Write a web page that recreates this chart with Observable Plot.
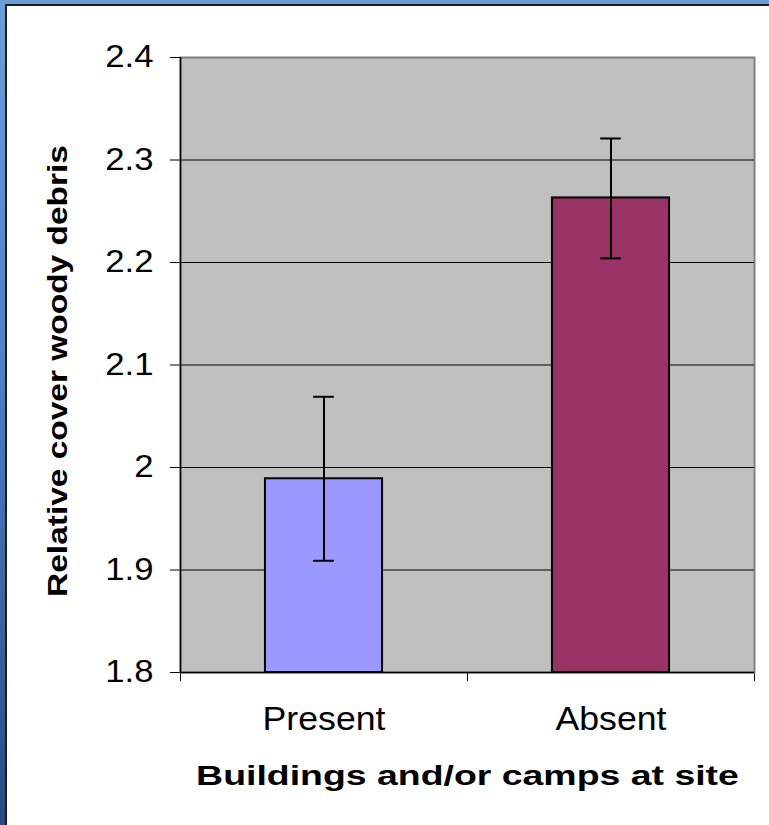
<!DOCTYPE html>
<html><head><meta charset="utf-8">
<script src="https://cdn.jsdelivr.net/npm/d3@7"></script>
<script src="https://cdn.jsdelivr.net/npm/@observablehq/plot@0.6"></script>
<style>
html,body{margin:0;padding:0;width:769px;height:825px;overflow:hidden;background:#fff}
#slide{position:absolute;left:0;top:0;width:769px;height:825px;background:linear-gradient(180deg,#6a9ed8 0%,#4f80c0 45%,#2a4a80 100%);}
#page{position:absolute;left:5px;top:4px;right:0;bottom:0;background:#fff;border-top:2px solid #1e1e1e;border-left:2px solid #1e1e1e;}
#chart{position:absolute;left:0;top:0}
</style></head>
<body>
<div id="slide"></div><div id="page"></div><div id="chart"></div>
<script>
// ---- data ----
const categories = ["Present", "Absent"];
const values = [1.989, 2.263];
const errLow = [1.909, 2.204];
const errHigh = [2.069, 2.321];
const barColors = ["#9999FF", "#993366"];
const yTicks = [1.8, 1.9, 2.0, 2.1, 2.2, 2.3, 2.4];
const gridTicks = [1.9, 2.0, 2.1, 2.2, 2.3];
const yTitle = "Relative cover woody debris";
const xTitle = "Buildings and/or camps at site";

const yMin = yTicks[0], yMax = yTicks[yTicks.length - 1];
const barHalf = 0.204;   // half of bar width as a fraction of category slot
const capHalf = 0.036;   // half of error cap width

const table = categories.map((c, i) => ({
  cat: c, i, center: i + 0.5, value: values[i], lo: errLow[i], hi: errHigh[i]
}));
const bounds = d3.range(0, categories.length + 1);

const chart = Plot.plot({
  width: 769, height: 825,
  marginLeft: 180, marginRight: 15, marginTop: 57, marginBottom: 153,
  style: {fontFamily: "'Liberation Sans', Arial, sans-serif", fontSize: "31px", color: "black", background: "transparent", overflow: "visible"},
  x: {domain: [0, categories.length], ticks: bounds, tickFormat: () => "", tickSize: 9, label: null},
  y: {domain: [yMin, yMax], ticks: yTicks, tickFormat: d3.format("~g"), tickSize: 10, tickPadding: 17, label: null},
  color: {domain: categories, range: barColors},
  marks: [
    Plot.frame({fill: "#c0c0c0", stroke: "#808080", strokeWidth: 2}),
    Plot.ruleY(gridTicks, {stroke: "black", strokeWidth: 1}),
    Plot.ruleX([bounds[0]], {y1: yMin, y2: yMax, stroke: "black", strokeWidth: 1.5}),
    Plot.ruleY([yMin], {stroke: "black", strokeWidth: 1.5}),
    Plot.rectY(table, {x1: d => d.center - barHalf, x2: d => d.center + barHalf, y1: yMin, y2: "value", fill: "cat", stroke: "black", strokeWidth: 2}),
    Plot.ruleX(table, {x: "center", y1: "lo", y2: "hi", stroke: "black", strokeWidth: 2}),
    Plot.ruleY(table, {x1: d => d.center - capHalf, x2: d => d.center + capHalf, y: "lo", stroke: "black", strokeWidth: 2}),
    Plot.ruleY(table, {x1: d => d.center - capHalf, x2: d => d.center + capHalf, y: "hi", stroke: "black", strokeWidth: 2}),
    Plot.text(table, {x: "center", y: yMin, text: "cat", dy: 47, fontSize: 33, fill: "black", className: "catlab"}),
    Plot.text([yTitle], {frameAnchor: "left", textAnchor: "middle", rotate: -90, dx: -122, dy: 6, fontSize: 28, fontWeight: "bold", fill: "black", className: "ytitle"}),
    Plot.text([xTitle], {frameAnchor: "bottom", textAnchor: "middle", dy: 112, fontSize: 28, fontWeight: "bold", fill: "black", className: "xtitle"})
  ]
});
document.getElementById("chart").appendChild(chart);

// stretch text along its direction to match the reference's wide lettering
function stretch(node, factor) {
  const t = node.getAttribute("transform") || "";
  node.setAttribute("transform", (t + ` scale(${factor},1)`).trim());
}
const sel = d3.select(chart);
sel.selectAll(".xtitle text").each(function() { stretch(this, 543 / this.getComputedTextLength()); });
sel.selectAll(".ytitle text").each(function() { stretch(this, 452 / this.getComputedTextLength()); });
sel.selectAll(".catlab text").each(function() {
  const w = this.getComputedTextLength();
  d3.select(this).attr("textLength", w * 1.08).attr("lengthAdjust", "spacingAndGlyphs");
});
sel.selectAll("g[aria-label='y-axis tick label'] text, g[aria-label='y-axis'] text").each(function() {
  const w = this.getComputedTextLength();
  d3.select(this).attr("textLength", w * 1.12).attr("lengthAdjust", "spacingAndGlyphs");
});
</script>
</body></html>
